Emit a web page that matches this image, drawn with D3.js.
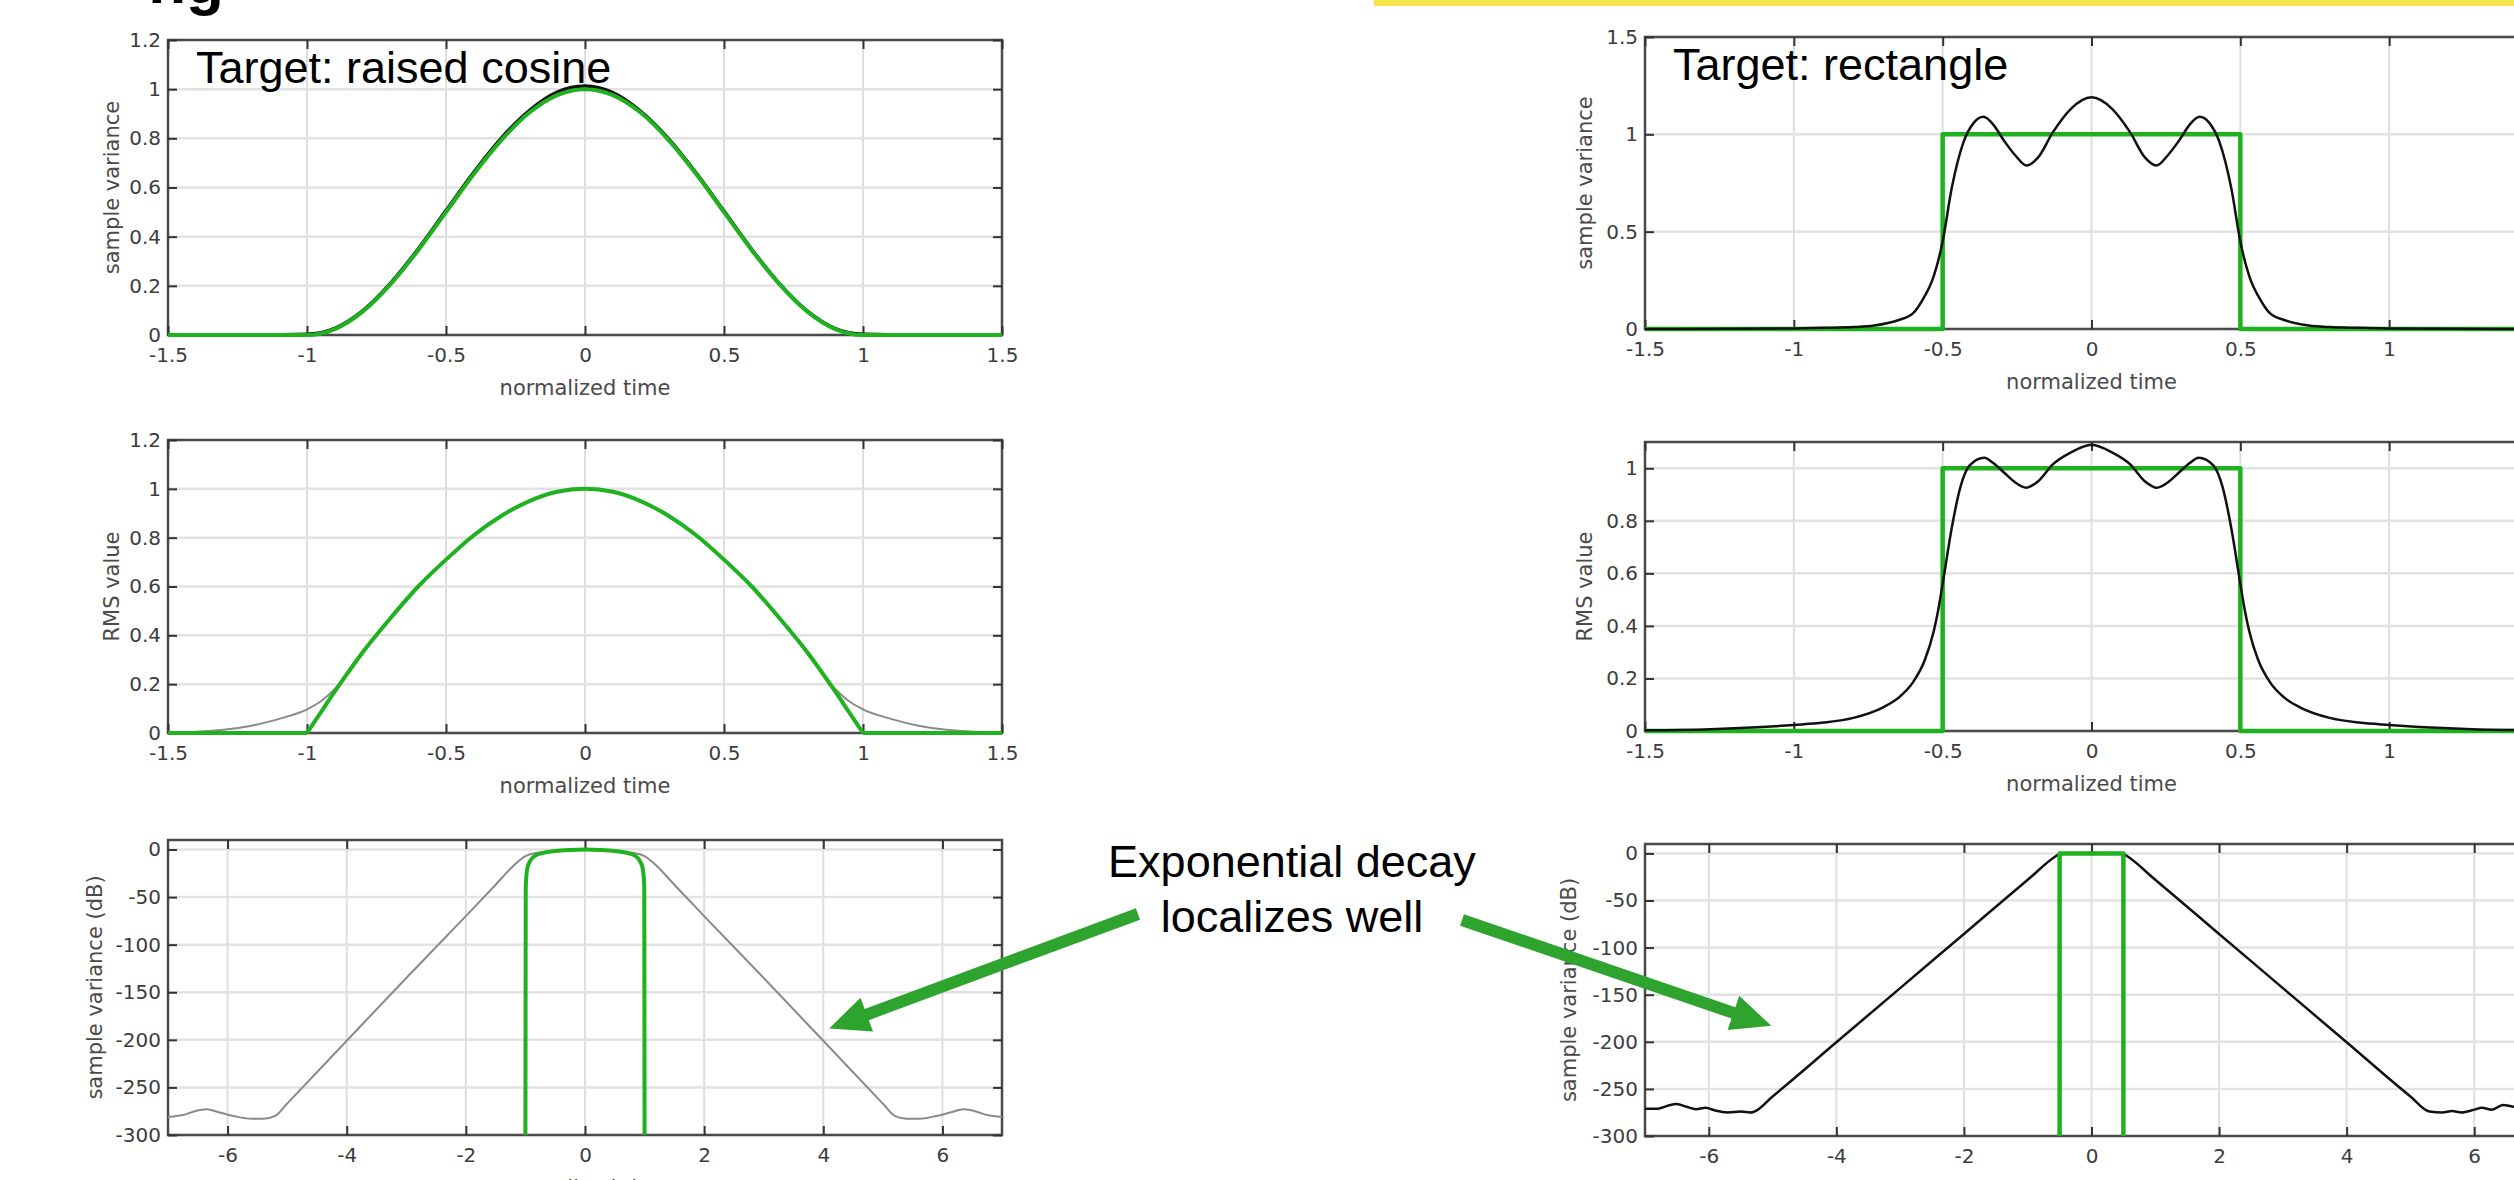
<!DOCTYPE html>
<html>
<head>
<meta charset="utf-8">
<script src="https://cdn.jsdelivr.net/npm/d3@7"></script>
<style>
  html, body { margin: 0; padding: 0; background: #fff; }
  svg { display: block; }
  .tick text { font-family: "DejaVu Sans", sans-serif; font-size: 20px; fill: #3c3c3c; }
  .axis-name { font-family: "DejaVu Sans", sans-serif; font-size: 21px; fill: #4a4a4a; }
  .title { font-family: "Liberation Sans", Arial, sans-serif; font-size: 45px; fill: #000; }
</style>
</head>
<body>
<svg id="chart" width="2514" height="1180"></svg>
<script>
// tick values
const timeTicks = [-1.5, -1, -0.5, 0, 0.5, 1, 1.5];
const wideTimeTicks = [-6, -4, -2, 0, 2, 4, 6];
const varTicks = [0, 0.2, 0.4, 0.6, 0.8, 1, 1.2];
const rmsRectTicks = [0, 0.2, 0.4, 0.6, 0.8, 1];
const rectVarTicks = [0, 0.5, 1, 1.5];
const dbTicks = [-300, -250, -200, -150, -100, -50, 0];

// raised cosine target: sample variance
const cosVarTime = [-1.5, -1.2, -1.0, -0.9, -0.8, -0.7, -0.6, -0.5, -0.4, -0.3, -0.2, -0.1, 0, 0.1, 0.2, 0.3, 0.4, 0.5, 0.6, 0.7, 0.8, 0.9, 1.0, 1.2, 1.5];
const cosVarTarget = [0, 0, 0, 0.024, 0.095, 0.206, 0.345, 0.5, 0.655, 0.794, 0.905, 0.976, 1.0, 0.976, 0.905, 0.794, 0.655, 0.5, 0.345, 0.206, 0.095, 0.024, 0, 0, 0];
const cosVarSample = [0, 0, 0.003, 0.027, 0.098, 0.21, 0.35, 0.506, 0.662, 0.802, 0.913, 0.988, 1.013, 0.986, 0.91, 0.799, 0.659, 0.504, 0.348, 0.208, 0.097, 0.026, 0.003, 0, 0];

// raised cosine target: RMS value
const cosRmsTime = [-1.5, -1.4, -1.3, -1.2, -1.1, -1.0, -0.95, -0.9, -0.8, -0.7, -0.6, -0.5, -0.4, -0.3, -0.2, -0.1, 0, 0.1, 0.2, 0.3, 0.4, 0.5, 0.6, 0.7, 0.8, 0.9, 0.95, 1.0, 1.1, 1.2, 1.3, 1.4, 1.5];
const cosRmsSample = [0.002, 0.005, 0.013, 0.03, 0.058, 0.097, 0.13, 0.18, 0.335, 0.472, 0.602, 0.712, 0.812, 0.892, 0.952, 0.99, 1.003, 0.99, 0.952, 0.892, 0.812, 0.712, 0.602, 0.472, 0.335, 0.18, 0.13, 0.097, 0.058, 0.03, 0.013, 0.005, 0.002];
const cosRmsArchTime = [-1.0, -0.95, -0.9, -0.8, -0.7, -0.6, -0.5, -0.4, -0.3, -0.2, -0.1, 0, 0.1, 0.2, 0.3, 0.4, 0.5, 0.6, 0.7, 0.8, 0.9, 0.95, 1.0];
const cosRmsArch = [0, 0.085, 0.17, 0.33, 0.47, 0.6, 0.71, 0.81, 0.89, 0.95, 0.988, 1.0, 0.988, 0.95, 0.89, 0.81, 0.71, 0.6, 0.47, 0.33, 0.17, 0.085, 0];
const cosRmsFlatLeftTime = [-1.5, -1.0];
const cosRmsFlatRightTime = [1.0, 1.5];
const cosRmsFlat = [0, 0];

// raised cosine target: sample variance in dB
const cosDbTargetTime = [-1.0, -0.995, -0.97, -0.92, -0.85, -0.7, -0.5, -0.25, 0, 0.25, 0.5, 0.7, 0.85, 0.92, 0.97, 0.995, 1.0];
const cosDbTarget = [-300, -40, -20, -12, -7, -3.5, -1.5, -0.4, 0, -0.4, -1.5, -3.5, -7, -12, -20, -40, -300];
const cosDbSampleTime = [-7, -6.75, -6.55, -6.35, -6.15, -5.9, -5.6, -5.4, -5.2, -5, -4, -3, -2, -1.5, -1.2, -1.0, -0.8, -0.5, 0, 0.5, 0.8, 1.0, 1.2, 1.5, 2, 3, 4, 5, 5.2, 5.4, 5.6, 5.9, 6.15, 6.35, 6.55, 6.75, 7];
const cosDbSample = [-281, -279, -275, -273, -276, -280, -283, -283, -280, -267, -201, -135, -70, -37, -17, -7, -3.5, -1.5, 0, -1.5, -3.5, -7, -17, -37, -70, -135, -201, -267, -280, -283, -283, -280, -276, -273, -275, -279, -281];

// rectangle target: step shapes
const rectTime = [-1.5, -0.5, -0.5, 0.5, 0.5, 1.5];
const rectTarget = [0, 0, 1, 1, 0, 0];
const rectDbTime = [-0.5, -0.5, 0.5, 0.5];
const rectDbTarget = [-300, 0, 0, -300];

// rectangle target: sample variance
const rectVarTime = [-1.5, -1.2, -1.0, -0.9, -0.8, -0.73, -0.65, -0.6, -0.56, -0.535, -0.5, -0.47, -0.43, -0.395, -0.363, -0.33, -0.295, -0.255, -0.218, -0.18, -0.13, -0.07, 0, 0.07, 0.13, 0.18, 0.218, 0.255, 0.295, 0.33, 0.363, 0.395, 0.43, 0.47, 0.5, 0.535, 0.56, 0.6, 0.65, 0.73, 0.8, 0.9, 1.0, 1.2, 1.5];
const rectVarSample = [0, 0.001, 0.003, 0.006, 0.01, 0.018, 0.045, 0.08, 0.17, 0.25, 0.45, 0.72, 0.96, 1.06, 1.09, 1.05, 0.97, 0.89, 0.84, 0.88, 1.01, 1.13, 1.19, 1.13, 1.01, 0.88, 0.84, 0.89, 0.97, 1.05, 1.09, 1.06, 0.96, 0.72, 0.45, 0.25, 0.17, 0.08, 0.045, 0.018, 0.01, 0.006, 0.003, 0.001, 0];

// rectangle target: RMS value
const rectRmsTime = [-1.5, -1.3, -1.2, -1.0, -0.9, -0.8, -0.7, -0.65, -0.6, -0.56, -0.53, -0.515, -0.5, -0.47, -0.44, -0.41, -0.36, -0.33, -0.295, -0.255, -0.22, -0.18, -0.13, -0.07, 0, 0.07, 0.13, 0.18, 0.22, 0.255, 0.295, 0.33, 0.36, 0.41, 0.44, 0.47, 0.5, 0.515, 0.53, 0.56, 0.6, 0.65, 0.7, 0.8, 0.9, 1.0, 1.2, 1.3, 1.5];
const rectRmsSample = [0.003, 0.006, 0.01, 0.023, 0.032, 0.05, 0.09, 0.125, 0.185, 0.27, 0.38, 0.46, 0.56, 0.77, 0.93, 1.01, 1.04, 1.02, 0.985, 0.945, 0.926, 0.95, 1.015, 1.06, 1.09, 1.06, 1.015, 0.95, 0.926, 0.945, 0.985, 1.02, 1.04, 1.01, 0.93, 0.77, 0.56, 0.46, 0.38, 0.27, 0.185, 0.125, 0.09, 0.05, 0.032, 0.023, 0.01, 0.006, 0.003];

// rectangle target: sample variance in dB
const rectDbSampleTime = [-7, -6.8, -6.65, -6.5, -6.35, -6.2, -6.05, -5.9, -5.7, -5.5, -5.35, -5.3, -5, -4, -3, -2, -1, -0.55, -0.5, -0.3, -0.15, 0, 0.15, 0.3, 0.5, 0.55, 1, 2, 3, 4, 5, 5.3, 5.5, 5.65, 5.8, 6.0, 6.12, 6.28, 6.45, 6.63, 6.8, 7];
const rectDbSample = [-271, -271, -268, -266, -269, -271.5, -270, -273, -275, -274, -275, -274.5, -258, -200.5, -143, -85.5, -28, -2.5, -0.5, 0.5, -0.3, 0.8, -0.3, 0.5, -0.5, -2.5, -28, -85.5, -143, -200.5, -258, -274, -275, -273.5, -275, -272, -270, -272, -267, -269, -270, -268];

const GREEN = "#1fb21f";
const ARROW_GREEN = "#2ea42e";
const PAGE_WIDTH = 2514;

const svg = d3.select("#chart");

const zip = (xs, ys) => xs.map((t, i) => [t, ys[i]]);

let clipCount = 0;

function drawPanel(cfg) {
    const g = svg.append("g");
    const x = d3.scaleLinear().domain(cfg.xDomain).range([cfg.left, cfg.right]);
    const y = d3.scaleLinear().domain(cfg.yDomain).range([cfg.bottom, cfg.top]);

    // grid
    g.append("g").selectAll("line")
        .data(cfg.xTicks)
        .join("line")
        .attr("x1", d => x(d)).attr("x2", d => x(d))
        .attr("y1", cfg.top).attr("y2", cfg.bottom)
        .attr("stroke", "#dedede").attr("stroke-width", 2);
    g.append("g").selectAll("line")
        .data(cfg.yTicks)
        .join("line")
        .attr("x1", cfg.left).attr("x2", cfg.right)
        .attr("y1", d => y(d)).attr("y2", d => y(d))
        .attr("stroke", "#e2e2e2").attr("stroke-width", 2.5);

    // frame
    g.append("rect")
        .attr("x", cfg.left).attr("y", cfg.top)
        .attr("width", cfg.right - cfg.left).attr("height", cfg.bottom - cfg.top)
        .attr("fill", "none").attr("stroke", "#4a4a4a").attr("stroke-width", 2.5);

    // axes with inward ticks on all four sides
    const styleAxis = sel => {
        sel.select(".domain").remove();
        sel.selectAll(".tick line").attr("stroke", "#333").attr("stroke-width", 2);
    };
    // labels that would fall past the page edge are left out
    const shownX = cfg.xTicks.filter(d => x(d) + 12 < PAGE_WIDTH);
    g.append("g").attr("transform", `translate(0,${cfg.bottom})`)
        .call(d3.axisBottom(x).tickValues(cfg.xTicks).tickSizeInner(-9).tickSizeOuter(0).tickPadding(13)
            .tickFormat(d => shownX.includes(d) ? String(d) : ""))
        .call(styleAxis);
    g.append("g").attr("transform", `translate(0,${cfg.top})`)
        .call(d3.axisTop(x).tickValues(cfg.xTicks).tickSizeInner(-9).tickSizeOuter(0).tickFormat(""))
        .call(styleAxis);
    g.append("g").attr("transform", `translate(${cfg.left},0)`)
        .call(d3.axisLeft(y).tickValues(cfg.yTicks).tickSizeInner(-9).tickSizeOuter(0).tickPadding(7).tickFormat(d => String(d)))
        .call(styleAxis);
    g.append("g").attr("transform", `translate(${cfg.right},0)`)
        .call(d3.axisRight(y).tickValues(cfg.yTicks).tickSizeInner(-9).tickSizeOuter(0).tickFormat(""))
        .call(styleAxis);
    g.selectAll(".tick text").attr("fill", "#3c3c3c").style("font-size", "20px");
    g.selectAll(".tick text").filter(function () { return this.textContent === ""; }).remove();

    // clip for the curves
    const id = "clip" + (clipCount++);
    svg.append("clipPath").attr("id", id)
        .append("rect")
        .attr("x", cfg.left - 3).attr("y", cfg.top - 3)
        .attr("width", cfg.right - cfg.left + 6).attr("height", cfg.bottom - cfg.top + 6);

    const plot = g.append("g").attr("clip-path", `url(#${id})`);
    cfg.series.forEach(s => {
        const line = d3.line()
            .x(d => x(d[0]))
            .y(d => y(d[1]))
            .curve(s.curve || d3.curveMonotoneX);
        plot.append("path")
            .datum(s.data)
            .attr("d", line)
            .attr("fill", "none")
            .attr("stroke", s.color)
            .attr("stroke-width", s.width)
            .attr("stroke-linejoin", "round");
    });

    // axis names
    g.append("text").attr("class", "axis-name")
        .attr("x", (cfg.left + cfg.right) / 2).attr("y", cfg.bottom + 60)
        .attr("text-anchor", "middle")
        .text("normalized time");
    g.append("text").attr("class", "axis-name")
        .attr("transform", `translate(${cfg.yLabelX},${(cfg.top + cfg.bottom) / 2}) rotate(-90)`)
        .attr("text-anchor", "middle")
        .attr("dy", "0.35em")
        .text(cfg.yLabel);

    if (cfg.title) {
        g.append("text").attr("class", "title")
            .attr("x", cfg.left + 28).attr("y", cfg.top + 43)
            .text(cfg.title);
    }
    return { x, y };
}

// left column: raised cosine
drawPanel({
    left: 168, right: 1002, top: 40, bottom: 335,
    xDomain: [-1.5, 1.5], yDomain: [0, 1.2],
    xTicks: timeTicks, yTicks: varTicks,
    yLabel: "sample variance", yLabelX: 112,
    title: "Target: raised cosine",
    series: [
        { data: zip(cosVarTime, cosVarSample), color: "#111", width: 3.5 },
        { data: zip(cosVarTime, cosVarTarget), color: GREEN, width: 4 }
    ]
});

drawPanel({
    left: 168, right: 1002, top: 440, bottom: 733,
    xDomain: [-1.5, 1.5], yDomain: [0, 1.2],
    xTicks: timeTicks, yTicks: varTicks,
    yLabel: "RMS value", yLabelX: 112,
    series: [
        { data: zip(cosRmsTime, cosRmsSample), color: "#8a8a8a", width: 2 },
        { data: zip(cosRmsFlatLeftTime, cosRmsFlat), color: GREEN, width: 4, curve: d3.curveLinear },
        { data: zip(cosRmsArchTime, cosRmsArch), color: GREEN, width: 4 },
        { data: zip(cosRmsFlatRightTime, cosRmsFlat), color: GREEN, width: 4, curve: d3.curveLinear }
    ]
});

const leftDb = drawPanel({
    left: 168, right: 1002, top: 840, bottom: 1135,
    xDomain: [-7, 7], yDomain: [-300, 10],
    xTicks: wideTimeTicks, yTicks: dbTicks,
    yLabel: "sample variance (dB)", yLabelX: 95,
    series: [
        { data: zip(cosDbSampleTime, cosDbSample), color: "#8a8a8a", width: 2 },
        { data: zip(cosDbTargetTime, cosDbTarget), color: GREEN, width: 4 }
    ]
});

// right column: rectangle
drawPanel({
    left: 1645, right: 2538, top: 37, bottom: 329,
    xDomain: [-1.5, 1.5], yDomain: [0, 1.5],
    xTicks: timeTicks, yTicks: rectVarTicks,
    yLabel: "sample variance", yLabelX: 1585,
    title: "Target: rectangle",
    series: [
        { data: zip(rectTime, rectTarget), color: GREEN, width: 4.5, curve: d3.curveLinear },
        { data: zip(rectVarTime, rectVarSample), color: "#111", width: 2.5 }
    ]
});

drawPanel({
    left: 1645, right: 2538, top: 442, bottom: 731,
    xDomain: [-1.5, 1.5], yDomain: [0, 1.1],
    xTicks: timeTicks, yTicks: rmsRectTicks,
    yLabel: "RMS value", yLabelX: 1585,
    series: [
        { data: zip(rectTime, rectTarget), color: GREEN, width: 4.5, curve: d3.curveLinear },
        { data: zip(rectRmsTime, rectRmsSample), color: "#111", width: 2.5 }
    ]
});

const rightDb = drawPanel({
    left: 1645, right: 2538, top: 844, bottom: 1136,
    xDomain: [-7, 7], yDomain: [-300, 10],
    xTicks: wideTimeTicks, yTicks: dbTicks,
    yLabel: "sample variance (dB)", yLabelX: 1569,
    series: [
        { data: zip(rectDbSampleTime, rectDbSample), color: "#111", width: 2.5 },
        { data: zip(rectDbTime, rectDbTarget), color: GREEN, width: 4.5, curve: d3.curveLinear }
    ]
});

// annotation: text plus two arrows pointing at the exponential tails
const note = svg.append("g");
note.append("text").attr("class", "title")
    .attr("x", 1292).attr("y", 877).attr("text-anchor", "middle")
    .text("Exponential decay");
note.append("text").attr("class", "title")
    .attr("x", 1292).attr("y", 932).attr("text-anchor", "middle")
    .text("localizes well");

function arrow(x0, y0, x1, y1) {
    const dx = x1 - x0, dy = y1 - y0;
    const len = Math.hypot(dx, dy);
    const ux = dx / len, uy = dy / len;
    const px = -uy, py = ux;
    const shaft = 6, head = 18, headLen = 40;
    const bx = x1 - ux * headLen, by = y1 - uy * headLen;
    const pts = [
        [x0 + px * shaft, y0 + py * shaft],
        [bx + px * shaft, by + py * shaft],
        [bx + px * head, by + py * head],
        [x1, y1],
        [bx - px * head, by - py * head],
        [bx - px * shaft, by - py * shaft],
        [x0 - px * shaft, y0 - py * shaft]
    ];
    note.append("path")
        .attr("d", d3.line()(pts) + "Z")
        .attr("fill", ARROW_GREEN);
}
arrow(1138, 914, leftDb.x(4.1), leftDb.y(-188));
arrow(1462, 920, rightDb.x(-5.02), rightDb.y(-183));

// slide header remnants above the figure: yellow strip and the cut-off title
svg.append("rect").attr("x", 1374).attr("y", 0).attr("width", 1140).attr("height", 6).attr("fill", "#f7e44c");
svg.append("text")
    .attr("x", 224).attr("y", 3)
    .attr("text-anchor", "end")
    .style("font-family", "Liberation Sans, Arial, sans-serif")
    .style("font-weight", "bold")
    .style("font-size", "62px")
    .text("ng");
</script>
</body>
</html>
